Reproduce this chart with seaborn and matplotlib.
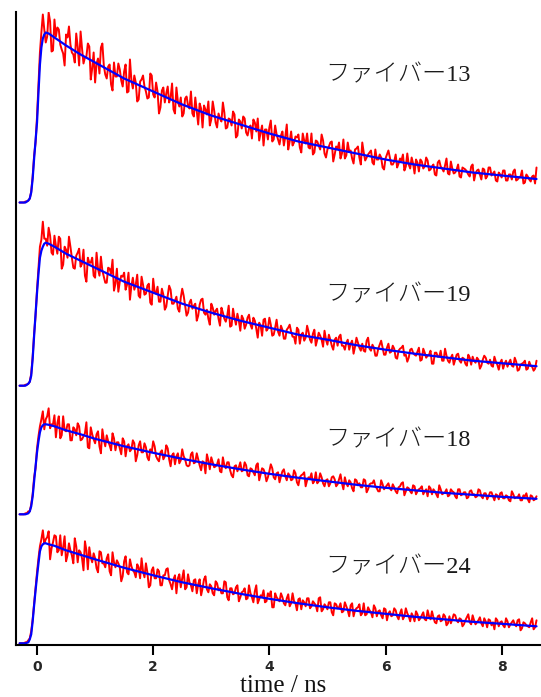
import numpy as np
import pandas as pd
import matplotlib
matplotlib.use("Agg")
import matplotlib.pyplot as plt
import seaborn as sns

# ---- fluorescence decay data (TCSPC channels, arbitrary intensity units) ----
T_START = -0.30      # first channel time [ns]
T_STEP = 0.025       # channel width [ns]

LABELS = ["ファイバー13", "ファイバー19", "ファイバー18", "ファイバー24"]

counts_13 = [
    0, 0, 0, 0, 1, 1, 2, 4, 11, 26,
    47, 60, 86, 118, 150, 170, 188, 173, 160, 166,
    190, 181, 151, 152, 183, 166, 175, 173, 158, 153,
    149, 137, 168, 165, 176, 158, 150, 148, 140, 169,
    156, 137, 171, 154, 139, 145, 146, 159, 156, 123,
    134, 150, 120, 139, 144, 129, 155, 159, 137, 128,
    124, 136, 138, 118, 112, 140, 126, 126, 139, 133,
    122, 116, 131, 138, 110, 111, 143, 122, 114, 127,
    120, 101, 103, 121, 123, 127, 116, 111, 104, 105,
    129, 127, 108, 105, 120, 111, 89, 95, 112, 115,
    100, 109, 116, 100, 105, 119, 93, 89, 115, 101,
    96, 105, 86, 89, 104, 106, 97, 94, 111, 89,
    86, 105, 91, 78, 99, 94, 75, 97, 93, 88,
    101, 77, 83, 101, 92, 80, 75, 89, 84, 81,
    100, 90, 74, 75, 84, 83, 77, 91, 88, 65,
    67, 83, 81, 74, 86, 84, 70, 67, 74, 77,
    64, 83, 80, 71, 84, 62, 70, 77, 57, 73,
    73, 63, 75, 82, 61, 63, 77, 68, 63, 58,
    67, 71, 57, 66, 78, 53, 61, 71, 57, 60,
    66, 65, 68, 55, 50, 69, 62, 59, 69, 55,
    54, 69, 48, 50, 62, 61, 57, 53, 68, 62,
    49, 45, 53, 56, 60, 61, 41, 48, 56, 54,
    60, 44, 49, 63, 44, 47, 60, 51, 52, 44,
    39, 53, 54, 56, 45, 38, 60, 50, 42, 45,
    48, 50, 52, 40, 38, 53, 43, 43, 48, 45,
    35, 33, 44, 48, 52, 45, 38, 38, 41, 48,
    35, 39, 44, 42, 48, 32, 36, 49, 38, 34,
    45, 39, 29, 43, 40, 31, 43, 41, 34, 36,
    45, 42, 32, 33, 36, 38, 28, 27, 40, 42,
    36, 34, 31, 37, 44, 29, 28, 41, 34, 29,
    30, 33, 38, 26, 25, 35, 34, 33, 31, 28,
    26, 36, 38, 22, 29, 32, 33, 28, 23, 34,
    33, 24, 26, 35, 35, 27, 29, 31, 22, 21,
    30, 28, 25, 32, 32, 22, 22, 28, 28, 23,
    31, 33, 22, 23, 25, 26, 32, 19, 20, 28,
    26, 23, 21, 26, 27, 19, 35,
]

counts_19 = [
    0, 0, 0, 0, 1, 1, 2, 4, 12, 29,
    52, 70, 96, 118, 139, 146, 164, 147, 147, 140,
    158, 150, 133, 131, 150, 140, 132, 149, 147, 117,
    121, 139, 136, 128, 149, 139, 128, 118, 117, 130,
    133, 137, 119, 122, 136, 110, 104, 128, 123, 123,
    128, 110, 108, 133, 117, 110, 129, 115, 109, 103,
    103, 118, 117, 112, 126, 95, 102, 117, 94, 104,
    110, 109, 113, 96, 101, 113, 86, 100, 108, 96,
    101, 111, 90, 88, 109, 101, 91, 92, 100, 102,
    83, 81, 107, 94, 92, 99, 84, 84, 97, 91,
    76, 79, 90, 100, 96, 82, 82, 85, 89, 77,
    74, 88, 97, 90, 80, 70, 73, 83, 86, 77,
    80, 82, 65, 70, 81, 86, 87, 73, 71, 76,
    67, 61, 82, 78, 71, 75, 77, 67, 60, 78,
    73, 67, 64, 70, 80, 59, 60, 77, 68, 61,
    72, 65, 55, 70, 67, 57, 61, 68, 71, 61,
    57, 68, 65, 57, 48, 63, 60, 50, 66, 67,
    55, 57, 68, 61, 50, 51, 58, 66, 54, 50,
    60, 56, 47, 47, 56, 58, 61, 54, 49, 49,
    42, 58, 56, 42, 51, 53, 45, 48, 60, 54,
    46, 43, 52, 56, 40, 46, 53, 50, 46, 39,
    55, 46, 41, 51, 46, 40, 36, 46, 48, 40,
    49, 51, 40, 40, 36, 43, 46, 36, 42, 45,
    32, 39, 48, 43, 38, 35, 42, 35, 34, 45,
    48, 37, 35, 41, 38, 30, 30, 37, 41, 45,
    38, 31, 31, 38, 42, 33, 34, 40, 37, 28,
    27, 35, 37, 38, 40, 30, 31, 24, 28, 36,
    37, 33, 31, 30, 34, 38, 25, 26, 37, 33,
    28, 30, 31, 35, 22, 22, 33, 33, 29, 29,
    35, 25, 25, 37, 30, 25, 23, 28, 31, 21,
    26, 31, 32, 25, 23, 28, 27, 22, 20, 31,
    28, 21, 29, 25, 23, 28, 26, 17, 20, 26,
    30, 28, 23, 22, 26, 20, 19, 29, 24, 21,
    16, 23, 26, 17, 22, 25, 19, 23, 26, 20,
    19, 28, 24, 15, 16, 21, 22, 23, 25, 16,
    17, 24, 20, 19, 15, 17, 25,
]

counts_18 = [
    0, 0, 0, 0, 1, 1, 3, 3, 10, 20,
    37, 46, 66, 78, 88, 95, 103, 85, 95, 98,
    106, 86, 90, 90, 99, 77, 91, 98, 76, 79,
    98, 84, 83, 90, 90, 74, 74, 87, 85, 79,
    91, 88, 74, 75, 78, 81, 92, 67, 66, 87,
    80, 75, 71, 80, 83, 68, 61, 85, 75, 68,
    79, 73, 69, 64, 81, 76, 64, 72, 72, 66,
    60, 76, 73, 58, 68, 70, 63, 65, 74, 71,
    53, 59, 69, 73, 62, 62, 71, 67, 57, 54,
    65, 62, 73, 68, 58, 55, 53, 62, 64, 55,
    58, 69, 66, 55, 48, 59, 61, 50, 58, 61,
    51, 54, 65, 58, 55, 49, 48, 49, 60, 62,
    51, 52, 61, 55, 49, 44, 53, 52, 41, 60,
    54, 45, 57, 52, 47, 48, 50, 55, 43, 42,
    57, 49, 46, 52, 52, 44, 39, 37, 48, 49,
    43, 47, 52, 43, 44, 52, 49, 39, 38, 46,
    45, 42, 39, 49, 51, 34, 40, 46, 45, 41,
    33, 37, 43, 50, 46, 37, 35, 41, 42, 32,
    38, 43, 45, 38, 34, 41, 39, 34, 35, 44,
    41, 32, 29, 37, 39, 40, 42, 28, 34, 37,
    36, 41, 31, 33, 42, 31, 33, 41, 37, 31,
    28, 34, 35, 28, 31, 37, 38, 35, 28, 30,
    35, 40, 31, 25, 37, 31, 28, 34, 32, 26,
    23, 35, 34, 29, 31, 27, 27, 35, 34, 22,
    25, 30, 31, 31, 34, 28, 26, 23, 23, 34,
    30, 25, 27, 29, 31, 26, 24, 30, 27, 23,
    21, 27, 28, 31, 32, 19, 23, 27, 26, 23,
    21, 29, 28, 20, 23, 25, 26, 28, 20, 23,
    25, 18, 28, 26, 20, 25, 23, 20, 17, 29,
    25, 20, 21, 22, 25, 18, 19, 25, 23, 22,
    18, 16, 25, 25, 19, 20, 22, 22, 16, 17,
    23, 24, 20, 20, 17, 18, 25, 24, 18, 16,
    21, 21, 15, 18, 22, 22, 18, 14, 20, 19,
    15, 21, 22, 16, 16, 19, 18, 14, 13, 23,
    20, 16, 17, 17, 20, 14, 14, 19, 18, 21,
    15, 12, 19, 18, 14, 15, 18,
]

counts_24 = [
    0, 0, 0, 0, 1, 1, 3, 5, 12, 24,
    40, 55, 71, 85, 97, 104, 113, 100, 104, 106,
    112, 84, 95, 101, 108, 107, 91, 93, 108, 88,
    96, 107, 82, 88, 100, 93, 88, 80, 105, 97,
    81, 93, 91, 85, 73, 102, 93, 74, 96, 86,
    81, 90, 85, 75, 71, 92, 91, 80, 80, 76,
    85, 89, 72, 68, 91, 81, 76, 83, 80, 76,
    62, 67, 82, 87, 71, 69, 84, 77, 73, 71,
    66, 79, 76, 65, 85, 72, 66, 80, 71, 56,
    58, 73, 76, 65, 65, 74, 72, 58, 58, 68,
    68, 74, 75, 63, 59, 54, 64, 68, 50, 65,
    69, 56, 65, 73, 54, 56, 69, 61, 58, 52,
    63, 64, 50, 59, 64, 48, 55, 64, 67, 54,
    51, 59, 57, 50, 48, 62, 60, 53, 55, 50,
    50, 62, 61, 46, 43, 55, 55, 49, 50, 56,
    58, 42, 46, 51, 52, 55, 44, 45, 58, 50,
    46, 41, 52, 58, 40, 44, 48, 47, 53, 41,
    42, 50, 47, 52, 36, 36, 50, 46, 44, 42,
    50, 46, 40, 38, 45, 49, 37, 40, 50, 42,
    40, 33, 44, 45, 34, 43, 41, 37, 45, 45,
    35, 37, 42, 40, 38, 32, 45, 46, 32, 34,
    39, 37, 34, 41, 41, 31, 28, 40, 39, 35,
    36, 40, 31, 32, 41, 37, 33, 27, 38, 40,
    27, 33, 35, 36, 39, 28, 30, 40, 28, 29,
    36, 33, 31, 26, 38, 35, 27, 32, 33, 28,
    25, 35, 34, 23, 30, 32, 27, 28, 35, 33,
    27, 24, 30, 34, 24, 27, 35, 30, 27, 22,
    30, 27, 22, 32, 29, 23, 25, 28, 31, 24,
    23, 33, 27, 24, 32, 26, 21, 20, 27, 28,
    22, 23, 29, 27, 18, 20, 27, 20, 24, 29,
    28, 23, 21, 25, 24, 17, 19, 23, 26, 29,
    21, 19, 28, 23, 19, 21, 23, 26, 20, 17,
    25, 22, 16, 24, 23, 18, 21, 14, 25, 23,
    17, 21, 22, 18, 16, 25, 22, 16, 19, 21,
    23, 19, 17, 23, 24, 13, 15, 21, 20, 18,
    17, 16, 21, 25, 14, 16, 23,
]

# fitted decay curves (convolved with the instrument response)
fit_time = [-0.30, -0.20, -0.15, -0.125, -0.10, -0.075, -0.05, -0.025, 0.00, 0.025,
            0.05, 0.075, 0.10, 0.125, 0.15, 0.20, 0.30, 0.50, 0.75, 1.0,
            1.5, 2.0, 2.5, 3.0, 3.5, 4.0, 4.5, 5.0, 5.5, 6.0,
            6.5, 7.0, 7.5, 8.0, 8.6]
fit_13 = [0, 0, 2, 4, 10, 24, 44, 62, 80, 110,
          138, 155, 164, 168, 170, 169, 165, 157, 148, 140,
          124, 111, 98, 87, 78, 69, 61, 55, 49, 43,
          38, 34, 30, 27, 23.5]
fit_19 = [0, 0, 2, 4, 10, 27, 50, 72, 93, 112,
          128, 135, 139, 142, 143, 142, 139, 132, 125, 118,
          104, 93, 82, 73, 65, 58, 51, 46, 40.5, 36,
          32, 28.5, 25, 22.5, 19.5]
fit_18 = [0, 0, 1, 3, 8, 18, 33, 48, 62, 73,
          82, 87, 89, 90, 90, 89.5, 88, 84, 80, 75.5,
          68, 61.5, 55.5, 50, 45, 40.5, 36.5, 33, 29.5, 26.5,
          24, 21.5, 19.5, 17.5, 15.5]
fit_24 = [0, 0, 1, 4, 9, 22, 38, 53, 67, 80,
          92, 97, 99, 100, 100, 99, 97.5, 93, 88.5, 84,
          75.5, 68, 61, 55, 49.5, 44.5, 40, 36, 32.5, 29.5,
          26.5, 24, 21.5, 19.5, 17]

# ---- layout ----
STACK_OFFSET = [442.5, 259.3, 130.7, 1.7]   # vertical shift of each trace
LABEL_X = 4.96
LABEL_Y = [569, 349, 204, 77]

counts = [counts_13, counts_19, counts_18, counts_24]
fits = [fit_13, fit_19, fit_18, fit_24]

frames = []
for name, c, off in zip(LABELS, counts, STACK_OFFSET):
    c = np.asarray(c, dtype=float)
    t = T_START + T_STEP * np.arange(len(c))
    frames.append(pd.DataFrame({"time": t, "signal": c + off, "sample": name}))
data = pd.concat(frames, ignore_index=True)

fit_frames = []
for name, f, off in zip(LABELS, fits, STACK_OFFSET):
    fit_frames.append(pd.DataFrame({"time": fit_time,
                                    "signal": np.asarray(f, float) + off,
                                    "sample": name}))
fit_data = pd.concat(fit_frames, ignore_index=True)

sns.set_theme(style="white")
plt.rcParams["font.family"] = ["Liberation Serif", "Noto Sans CJK JP", "DejaVu Sans"]

W, H = 541, 697
fig = plt.figure(figsize=(W / 100, H / 100), dpi=100)
ax = fig.add_axes([16 / W, 1 - 645 / H, 524 / W, 633.3 / H])

for name in LABELS:
    sub = data[data["sample"] == name]
    sns.lineplot(data=sub, x="time", y="signal", color="#ff0000",
                 linewidth=1.4, estimator=None, sort=False, ax=ax, legend=False)
for name in LABELS:
    sub = fit_data[fit_data["sample"] == name]
    sns.lineplot(data=sub, x="time", y="signal", color="#0000ff",
                 linewidth=1.6, estimator=None, sort=False, ax=ax, legend=False)

for name, y in zip(LABELS, LABEL_Y):
    ax.text(LABEL_X, y, name, ha="left", va="center", fontsize=17.5,
            color="#1a1a1a", fontweight="light")

ax.set_xlim(-0.362, 8.66)
ax.set_ylim(0, 633.3)
ax.set_xticks([0, 2, 4, 6, 8])
ax.set_xticklabels(["0", "2", "4", "6", "8"], family="DejaVu Sans",
                   fontweight="bold", fontsize=10)
ax.set_yticks([])
ax.tick_params(axis="x", direction="out", length=7, width=1.5,
               color="black", pad=4, bottom=True)
for side in ["top", "right"]:
    ax.spines[side].set_visible(False)
for side in ["left", "bottom"]:
    ax.spines[side].set_visible(True)
    ax.spines[side].set_color("black")
    ax.spines[side].set_linewidth(1.5)

ax.set_xlabel("time / ns", fontsize=18, color="#111111")
ax.set_ylabel("")
ax.xaxis.set_label_coords((283 - 16) / 524, -(692 - 645) / 633.3)
ax.xaxis.label.set_verticalalignment("baseline")

fig.savefig("out.png", dpi=100)
